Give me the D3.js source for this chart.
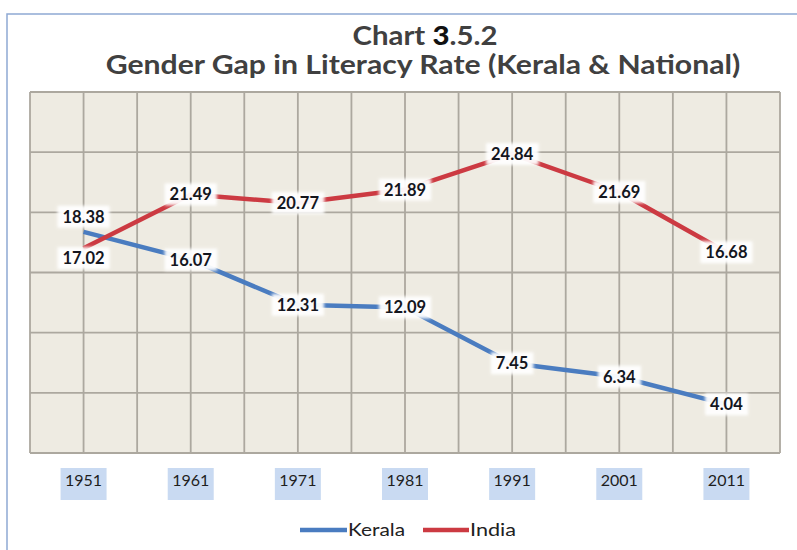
<!DOCTYPE html>
<html><head><meta charset="utf-8">
<script src="https://cdn.jsdelivr.net/npm/d3@7"></script>
<style>
html,body{margin:0;padding:0;background:#fff;}
svg{display:block;}
</style>
</head><body>
<svg id="chart" width="797" height="550"></svg>
<script>
const years = ["1951","1961","1971","1981","1991","2001","2011"];
const kerala = [18.38, 16.07, 12.31, 12.09, 7.45, 6.34, 4.04];
const india = [17.02, 21.49, 20.77, 21.89, 24.84, 21.69, 16.68];
const yTicks = [0,5,10,15,20,25,30];
const seriesNames = ["Kerala","India"];
const seriesColors = ["#4a7cc0","#cc3a42"];

const svg = d3.select("#chart");
const W = 797, H = 550;
const m = {left:30, right:780, top:92, bottom:453};
const FONT = "Lato, 'Open Sans', sans-serif";

// outer frame
svg.append("rect").attr("x",0).attr("y",0).attr("width",W).attr("height",H).attr("fill","#fff");
svg.append("rect").attr("x",7).attr("y",14).attr("width",W+20).attr("height",H+20)
  .attr("fill","#fff").attr("stroke","#8fa9d4").attr("stroke-width",1.5);

const defs = svg.append("defs");
const f = defs.append("filter").attr("id","soft").attr("x","-30%").attr("y","-40%").attr("width","160%").attr("height","180%");
f.append("feGaussianBlur").attr("stdDeviation",1.6);

const x = d3.scaleBand().domain(years).range([m.left,m.right]).padding(0);
const y = d3.scaleLinear().domain([0,30]).range([m.bottom,m.top]);
const cx = d => x(d) + x.bandwidth()/2;

// plot background
svg.append("rect").attr("x",m.left).attr("y",m.top).attr("width",m.right-m.left).attr("height",m.bottom-m.top)
  .attr("fill","#eeebe2");

// grid
const g = svg.append("g");
const vlines = [];
years.forEach(yr => { vlines.push(x(yr)); vlines.push(cx(yr)); });
vlines.push(m.right);
g.selectAll("line.v").data(vlines).join("line").attr("class","v")
  .attr("x1",d=>d).attr("x2",d=>d).attr("y1",m.top).attr("y2",m.bottom)
  .attr("stroke","#aca89f").attr("stroke-width",1.8);
g.selectAll("line.h").data(yTicks).join("line").attr("class","h")
  .attr("x1",m.left).attr("x2",m.right).attr("y1",d=>y(d)).attr("y2",d=>y(d))
  .attr("stroke","#aca89f").attr("stroke-width",1.8);

// title (condensed to mimic Calibri proportions)
function fitText(sel, cxPos, baseY, targetW) {
  const w = sel.node().getComputedTextLength();
  const s = targetW / w;
  sel.attr("x",0).attr("y",0).attr("text-anchor","middle")
     .attr("transform",`translate(${cxPos},${baseY}) scale(${s},1)`);
}
const title = svg.append("text")
  .attr("font-family",FONT).attr("font-weight","bold").attr("font-size",26).attr("fill","#404040");
title.append("tspan").text("Chart ");
title.append("tspan").text("3").attr("fill","#111").attr("font-weight","900");
title.append("tspan").text(".5.2");
fitText(title, 425, 45, 145);
const t2 = svg.append("text")
  .attr("font-family",FONT).attr("font-weight","bold").attr("font-size",26.5).attr("fill","#404040")
  .text("Gender Gap in Literacy Rate (Kerala & National)");
fitText(t2, 423, 74, 635);

// x axis labels with highlight
const axisG = svg.append("g").attr("transform",`translate(0,${m.bottom})`);
axisG.selectAll("rect.hl").data(years).join("rect").attr("class","hl")
  .attr("x",d=>cx(d)-23).attr("y",15).attr("width",46).attr("height",32).attr("fill","#c9daf2");
const xAxis = d3.axisBottom(x).tickSize(0).tickPadding(22);
const ax = axisG.append("g").call(xAxis);
ax.select(".domain").remove();
ax.selectAll("text").attr("font-family",FONT).attr("font-size",16).attr("fill","#1e1e1e");

// lines
const line = d3.line().x((d,i)=>cx(years[i])).y(d=>y(d));
[kerala, india].forEach((s,k) => {
  svg.append("path").datum(s).attr("d",line).attr("fill","none")
    .attr("stroke",seriesColors[k]).attr("stroke-width",4.5).attr("stroke-linejoin","round");
});

// data labels
const labels = [];
kerala.forEach((v,i)=>labels.push({v, i, dy: i===0 ? -15 : 0}));
india.forEach((v,i)=>labels.push({v, i, dy: i===0 ? 10 : 0}));
const lg = svg.append("g");
labels.forEach(d => {
  const px = cx(years[d.i]), py = y(d.v) + d.dy;
  const t = lg.append("text").attr("x",px).attr("y",py).attr("text-anchor","middle").attr("dy","0.36em")
    .attr("font-family",FONT).attr("font-weight","bold").attr("font-size",16.5)
    .attr("fill","#14161e").text(d.v.toFixed(2));
  const bb = t.node().getBBox();
  lg.insert("rect", () => t.node()).attr("x",bb.x-5).attr("y",bb.y-1).attr("width",bb.width+10).attr("height",bb.height+2)
    .attr("fill","#fff").attr("opacity",0.95).attr("filter","url(#soft)");
});

// legend
const leg = svg.append("g");
const legItems = [{x:300, lx2:347, tx:348, tw:57}, {x:423, lx2:469, tx:470, tw:46}];
seriesNames.forEach((n,k) => {
  const it = legItems[k];
  leg.append("line").attr("x1",it.x).attr("x2",it.lx2).attr("y1",530).attr("y2",530)
    .attr("stroke",seriesColors[k]).attr("stroke-width",4.5);
  leg.append("text").attr("x",it.tx).attr("y",530).attr("dy","0.36em")
    .attr("font-family",FONT).attr("font-size",18).attr("fill","#222")
    .attr("textLength",it.tw).attr("lengthAdjust","spacingAndGlyphs").text(n);
});
</script>
</body></html>
